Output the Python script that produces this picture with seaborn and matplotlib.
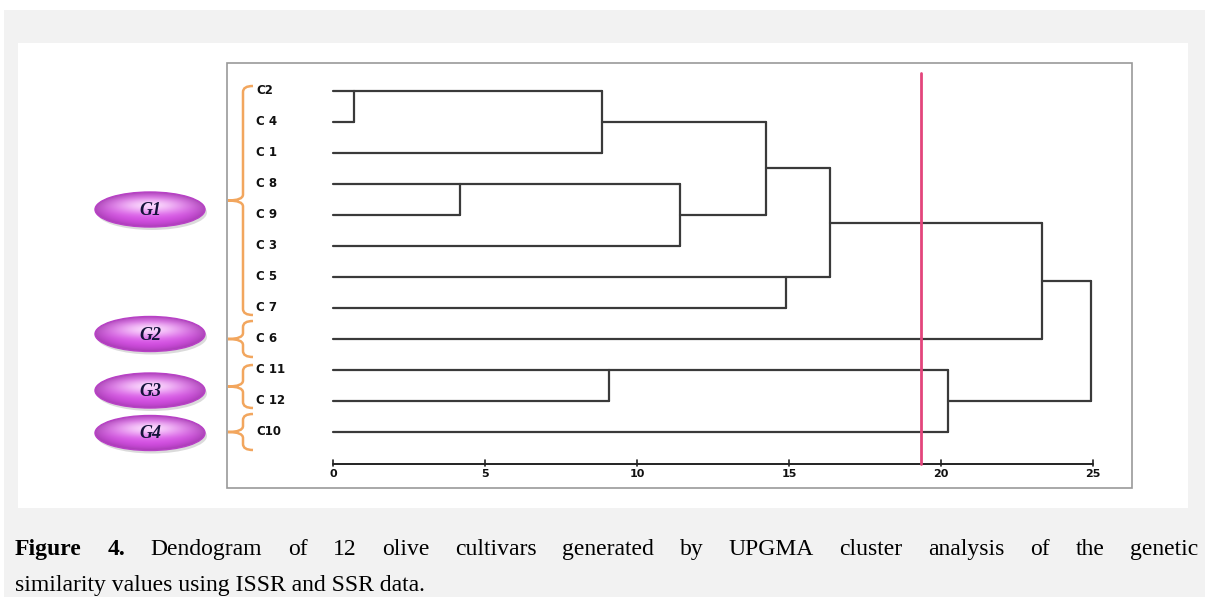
import numpy as np
import pandas as pd
import matplotlib
matplotlib.use("Agg")
import matplotlib.pyplot as plt
import seaborn as sns
from matplotlib.patches import Rectangle, Ellipse, PathPatch
from matplotlib.path import Path

# Dendrogram data (leaf order top -> bottom, merges as in a linkage table)
leaf_labels = ["C2", "C 4", "C 1", "C 8", "C 9", "C 3", "C 5", "C 7", "C 6", "C 11", "C 12", "C10"]
merge_a = [0, 3, 12, 9, 13, 14, 6, 17, 15, 19, 21]
merge_b = [1, 4, 2, 10, 5, 16, 7, 18, 11, 8, 20]
merge_h = [0.69, 4.18, 8.84, 9.08, 11.41, 14.23, 14.89, 16.35, 20.23, 23.31, 24.92]
cut_value = 19.33
x_ticks = [0, 5, 10, 15, 20, 25]

group_names = ["G1", "G2", "G3", "G4"]
group_first = [0, 8, 9, 11]
group_last = [7, 8, 10, 11]

caption_bold = "Figure 4."
caption_line1 = "Dendogram of 12 olive cultivars generated by UPGMA cluster analysis of the genetic"
caption_line2 = "similarity values using ISSR and SSR data."

sns.set_style("white")
W, H = 1205, 597
fig = plt.figure(figsize=(W / 100, H / 100), dpi=100)

# background / decoration layer in pixel coordinates
bg = fig.add_axes([0, 0, 1, 1])
bg.axis("off")
bg.add_patch(Rectangle((4, 10), W, H, facecolor="#f2f2f2", edgecolor="none"))
bg.add_patch(Rectangle((18, 43), 1170, 465, facecolor="white", edgecolor="none"))
bg.add_patch(Rectangle((227, 63), 905, 425, facecolor="white", edgecolor="#999999", lw=1.2))

row0, row_step = 91, 31.0


def row_px(i):
    return row0 + row_step * i


def brace(y0, y1, ym, xv=243, xtip=228, xhook=253, r=6):
    verts = [(xhook, y0), (xv, y0), (xv, y0 + r),
             (xv, ym - r), (xv, ym), (xtip, ym),
             (xv, ym), (xv, ym + r),
             (xv, y1 - r), (xv, y1), (xhook, y1)]
    codes = [Path.MOVETO, Path.CURVE3, Path.CURVE3,
             Path.LINETO, Path.CURVE3, Path.CURVE3,
             Path.CURVE3, Path.CURVE3,
             Path.LINETO, Path.CURVE3, Path.CURVE3]
    return PathPatch(Path(verts, codes), facecolor="none", edgecolor="#f2a65e", lw=1.8)


ell_w, ell_h = 110, 35
ell_cx = 150
ell_dy = [9, -5, 4, 1]
for k, name in enumerate(group_names):
    a, b = group_first[k], group_last[k]
    single = a == b
    y0 = row_px(a) - (18 if single else 5)
    y1 = row_px(b) + (18 if single else 7)
    ym = (y0 + y1) / 2
    bg.add_patch(brace(y0, y1, ym))

    cy = ym + ell_dy[k]
    bg.add_patch(Ellipse((ell_cx + 2, cy + 3), ell_w, ell_h, facecolor="#9a9a9a", alpha=0.35, edgecolor="none"))
    xs = np.linspace(-1, 1, 120)
    ys = np.linspace(-1, 1, 40)
    u, v = np.meshgrid(xs, ys)
    hl = np.exp(-((u / 0.7) ** 2 + ((v + 0.25) / 0.5) ** 2))
    base = np.array([0.84, 0.30, 0.90])
    light = np.array([0.98, 0.84, 0.99])
    rr = np.sqrt(u ** 2 + v ** 2)
    img = base[None, None, :] * (1 - hl[..., None]) + light[None, None, :] * hl[..., None]
    img = img * (1 - 0.2 * np.clip(rr, 0, 1)[..., None] ** 4)
    ell = Ellipse((ell_cx, cy), ell_w, ell_h, facecolor="none", edgecolor="#b840c6", lw=1.0)
    bg.add_patch(ell)
    im = bg.imshow(img, extent=(ell_cx - ell_w / 2, ell_cx + ell_w / 2, cy + ell_h / 2, cy - ell_h / 2),
                   aspect="auto", interpolation="bilinear", zorder=1)
    im.set_clip_path(ell)
    ell.set_zorder(2)
    bg.text(ell_cx, cy + 1, name, ha="center", va="center", fontsize=13, fontweight="bold",
            fontstyle="italic", family="Liberation Serif", color="#14143a", zorder=3)

bg.set_xlim(0, W)
bg.set_ylim(H, 0)

# dendrogram axes: x in distance units, y in leaf rows
px_per_unit = 30.4
x0_px = 333
ax = fig.add_axes([227 / W, 1 - 488 / H, 905 / W, 425 / H])
ax.set_facecolor("none")
ax.axis("off")

n = len(leaf_labels)
pos = {i: (float(i), 0.0) for i in range(n)}
segs = []
for k, (a, b, h) in enumerate(zip(merge_a, merge_b, merge_h)):
    ya, ha = pos[a]
    yb, hb = pos[b]
    segs += [(ha, ya), (h, ya), (hb, yb), (h, yb), (h, ya), (h, yb)]
    # pairs of single leaves continue from the upper leaf, others from the middle
    ny = min(ya, yb) if (a < n and b < n) else (ya + yb) / 2
    pos[n + k] = (ny, h)
seg_df = pd.DataFrame(segs, columns=["x", "y"])
seg_df["seg"] = np.repeat(np.arange(len(seg_df) // 2), 2)
sns.lineplot(data=seg_df, x="x", y="y", units="seg", estimator=None, sort=False,
             color="#3a3a3a", lw=1.6, ax=ax, legend=False)

for i, lab in enumerate(leaf_labels):
    ax.text((256 - x0_px) / px_per_unit, i, lab, ha="left", va="center",
            fontsize=8.5, fontweight="bold", color="#111111", family="DejaVu Sans")

axis_y = (464 - row0) / row_step
ax.plot([0, 25], [axis_y, axis_y], color="#222222", lw=1.4)
for t in x_ticks:
    ax.plot([t, t], [axis_y - 0.12, axis_y + 0.06], color="#222222", lw=1.2)
    ax.text(t, axis_y + 0.33, str(t), ha="center", va="center", fontsize=8,
            fontweight="bold", color="#111111", family="DejaVu Sans")

ax.plot([cut_value, cut_value], [(73 - row0) / row_step, axis_y], color="#e3457c", lw=2)

ax.set_xlim((227 - x0_px) / px_per_unit, (1132 - x0_px) / px_per_unit)
ax.set_ylim((488 - row0) / row_step, (63 - row0) / row_step)

# caption, first line justified
renderer = fig.canvas.get_renderer()
cap_size = 17
words = [(w, "bold") for w in caption_bold.split()] + [(w, "normal") for w in caption_line1.split()]
texts = []
for w, wt in words:
    t = fig.text(0, 0, w, fontsize=cap_size, fontweight=wt, family="Liberation Serif",
                 color="black", va="baseline", ha="left")
    texts.append(t)
widths = [t.get_window_extent(renderer).width for t in texts]
left, right = 15, 1198
gap = (right - left - sum(widths)) / (len(texts) - 1)
x = left
base1 = 1 - 555 / H
for t, wdt in zip(texts, widths):
    t.set_position((x / W, base1))
    x += wdt + gap
fig.text(left / W, 1 - 591 / H, caption_line2, fontsize=cap_size, family="Liberation Serif",
         color="black", va="baseline", ha="left")

fig.savefig("out.png", dpi=100)
